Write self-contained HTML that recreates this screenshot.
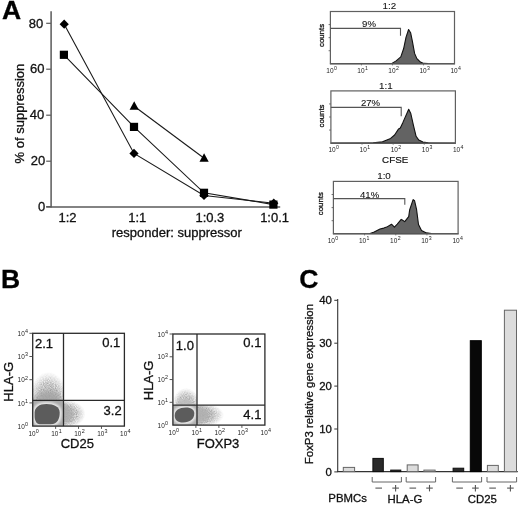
<!DOCTYPE html>
<html><head><meta charset="utf-8"><style>
html,body{margin:0;padding:0;background:#fff;width:520px;height:507px;overflow:hidden}
svg{display:block}
text{font-family:"Liberation Sans",sans-serif}
svg{will-change:transform}
</style></head><body>
<svg width="520" height="507" viewBox="0 0 520 507">
<rect width="520" height="507" fill="#fff"/>
<text x="2.0" y="19.0" font-size="26.5" text-anchor="start" font-weight="bold" fill="#000" stroke="#000" stroke-width="0.3" >A</text>
<text x="1.0" y="288.0" font-size="26.5" text-anchor="start" font-weight="bold" fill="#000" stroke="#000" stroke-width="0.3" >B</text>
<text x="299.3" y="288.2" font-size="26.5" text-anchor="start" font-weight="bold" fill="#000" stroke="#000" stroke-width="0.3" >C</text>
<line x1="51.1" y1="11.3" x2="51.1" y2="207.5" stroke="#5a5a5a" stroke-width="1.5"/>
<line x1="46.2" y1="206.9" x2="280.2" y2="206.9" stroke="#5a5a5a" stroke-width="1.5"/>
<line x1="46.2" y1="23.3" x2="51" y2="23.3" stroke="#5a5a5a" stroke-width="1.2"/>
<text x="43.3" y="27.9" font-size="13" text-anchor="end" fill="#111" stroke="#111" stroke-width="0.3" >80</text>
<line x1="46.2" y1="69.2" x2="51" y2="69.2" stroke="#5a5a5a" stroke-width="1.2"/>
<text x="44.5" y="73.2" font-size="13" text-anchor="end" fill="#111" stroke="#111" stroke-width="0.3" >60</text>
<line x1="46.2" y1="115.2" x2="51" y2="115.2" stroke="#5a5a5a" stroke-width="1.2"/>
<text x="44.3" y="119.2" font-size="13" text-anchor="end" fill="#111" stroke="#111" stroke-width="0.3" >40</text>
<line x1="46.2" y1="161.2" x2="51" y2="161.2" stroke="#5a5a5a" stroke-width="1.2"/>
<text x="45.2" y="165.39999999999998" font-size="13" text-anchor="end" fill="#111" stroke="#111" stroke-width="0.3" >20</text>
<line x1="46.2" y1="206.6" x2="51" y2="206.6" stroke="#5a5a5a" stroke-width="1.2"/>
<text x="45.2" y="210.5" font-size="13" text-anchor="end" fill="#111" stroke="#111" stroke-width="0.3" >0</text>
<text x="67.5" y="221.8" font-size="13" text-anchor="middle" fill="#111" stroke="#111" stroke-width="0.3" >1:2</text>
<text x="137.2" y="221.8" font-size="13" text-anchor="middle" fill="#111" stroke="#111" stroke-width="0.3" >1:1</text>
<text x="209.9" y="221.8" font-size="13" text-anchor="middle" fill="#111" stroke="#111" stroke-width="0.3" >1:0.3</text>
<text x="274.6" y="221.8" font-size="13" text-anchor="middle" fill="#111" stroke="#111" stroke-width="0.3" >1:0.1</text>
<text x="176.8" y="236.8" font-size="13" text-anchor="middle" fill="#111" stroke="#111" stroke-width="0.3" >responder: suppressor</text>
<text x="0" y="0" font-size="13" text-anchor="middle" fill="#111" stroke="#111" stroke-width="0.3" transform="translate(24.3,113.6) rotate(-90)">% of suppression</text>
<polyline points="64.2,24.2 134,153.4 204,195.5 273.8,203.2" fill="none" stroke="#1a1a1a" stroke-width="1.1"/>
<polyline points="63.9,54.8 134,126.9 204,192.8 273.4,204.6" fill="none" stroke="#1a1a1a" stroke-width="1.1"/>
<polyline points="134.2,106.2 204.1,158.2" fill="none" stroke="#1a1a1a" stroke-width="1.1"/>
<path d="M64.2 19.6L68.8 24.2L64.2 28.799999999999997L59.6 24.2Z" fill="#000"/>
<path d="M134 148.8L138.6 153.4L134 158.0L129.4 153.4Z" fill="#000"/>
<path d="M204 190.9L208.6 195.5L204 200.1L199.4 195.5Z" fill="#000"/>
<path d="M273.8 198.6L278.40000000000003 203.2L273.8 207.79999999999998L269.2 203.2Z" fill="#000"/>
<rect x="59.8" y="50.699999999999996" width="8.2" height="8.2" fill="#000"/>
<rect x="129.9" y="122.80000000000001" width="8.2" height="8.2" fill="#000"/>
<rect x="199.9" y="188.70000000000002" width="8.2" height="8.2" fill="#000"/>
<rect x="269.29999999999995" y="200.5" width="8.2" height="8.2" fill="#000"/>
<path d="M134.2 101.3L138.79999999999998 109.8L129.6 109.8Z" fill="#000"/>
<path d="M204.1 153.29999999999998L208.7 161.79999999999998L199.5 161.79999999999998Z" fill="#000"/>
<text x="0" y="0" font-size="10" text-anchor="middle" fill="#111" stroke="#111" stroke-width="0.1" transform="translate(389.3,9.2) scale(0.98,0.92)">1:2</text>
<path d="M330.4 63.8 L391.5 63.6 L396.1 60.9 L400.8 56.9 L403.6 48.8 L406 37.3 L408.6 29.5 L410.6 32.7 L412.3 40.8 L414.6 53.4 L416.9 58.6 L420.4 62.1 L423.8 63.4 L428 63.6 L454.5 63.8 Z" fill="#636363" stroke="#111" stroke-width="1.1" stroke-linejoin="round"/>
<rect x="330.4" y="11.5" width="124.10000000000002" height="52.3" fill="none" stroke="#606060" stroke-width="1.2"/>
<line x1="328.59999999999997" y1="50.724999999999994" x2="330.4" y2="50.724999999999994" stroke="#606060" stroke-width="0.9"/>
<line x1="328.59999999999997" y1="37.65" x2="330.4" y2="37.65" stroke="#606060" stroke-width="0.9"/>
<line x1="328.59999999999997" y1="24.575000000000003" x2="330.4" y2="24.575000000000003" stroke="#606060" stroke-width="0.9"/>
<polyline points="330.4,28.4 400.5,28.4 400.5,35.8" fill="none" stroke="#555" stroke-width="1.1"/>
<text x="0" y="0" font-size="10" text-anchor="middle" fill="#111" stroke="#111" stroke-width="0.1" transform="translate(369,27.299999999999997) scale(0.96,0.9)">9%</text>
<text x="0" y="0" font-size="7.8" text-anchor="middle" fill="#111" stroke="#111" stroke-width="0.3" transform="translate(323.6,35.4) rotate(-90)">counts</text>
<text x="326.29999999999995" y="72.55" font-size="6.5" fill="#222">10<tspan font-size="5.2" dx="0.4" dy="-2.7">0</tspan></text>
<line x1="361.42499999999995" y1="63.8" x2="361.42499999999995" y2="65.39999999999999" stroke="#606060" stroke-width="0.8"/>
<text x="357.32499999999993" y="72.55" font-size="6.5" fill="#222">10<tspan font-size="5.2" dx="0.4" dy="-2.7">1</tspan></text>
<line x1="392.45" y1="63.8" x2="392.45" y2="65.39999999999999" stroke="#606060" stroke-width="0.8"/>
<text x="388.34999999999997" y="72.55" font-size="6.5" fill="#222">10<tspan font-size="5.2" dx="0.4" dy="-2.7">2</tspan></text>
<line x1="423.475" y1="63.8" x2="423.475" y2="65.39999999999999" stroke="#606060" stroke-width="0.8"/>
<text x="419.375" y="72.55" font-size="6.5" fill="#222">10<tspan font-size="5.2" dx="0.4" dy="-2.7">3</tspan></text>
<text x="450.4" y="72.55" font-size="6.5" fill="#222">10<tspan font-size="5.2" dx="0.4" dy="-2.7">4</tspan></text>
<text x="0" y="0" font-size="10" text-anchor="middle" fill="#111" stroke="#111" stroke-width="0.1" transform="translate(385.8,88.60000000000001) scale(0.98,0.92)">1:1</text>
<path d="M330.9 143.1 L373.1 142.8 L382.5 141.7 L390.6 138.4 L394.6 135 L398.6 128.9 L400.3 128 L402.7 122.9 L408.7 109.2 L410.8 113.5 L413.5 125.6 L416.1 136.3 L418.8 140.1 L422.9 142 L428.3 142.8 L455.4 143.1 Z" fill="#636363" stroke="#111" stroke-width="1.1" stroke-linejoin="round"/>
<rect x="330.9" y="90.9" width="124.5" height="52.19999999999999" fill="none" stroke="#606060" stroke-width="1.2"/>
<line x1="329.09999999999997" y1="130.05" x2="330.9" y2="130.05" stroke="#606060" stroke-width="0.9"/>
<line x1="329.09999999999997" y1="117.0" x2="330.9" y2="117.0" stroke="#606060" stroke-width="0.9"/>
<line x1="329.09999999999997" y1="103.95" x2="330.9" y2="103.95" stroke="#606060" stroke-width="0.9"/>
<polyline points="330.9,107.4 401.2,107.4 401.2,116.2" fill="none" stroke="#555" stroke-width="1.1"/>
<text x="0" y="0" font-size="10" text-anchor="middle" fill="#111" stroke="#111" stroke-width="0.1" transform="translate(370.5,106.30000000000001) scale(0.96,0.9)">27%</text>
<text x="0" y="0" font-size="7.8" text-anchor="middle" fill="#111" stroke="#111" stroke-width="0.3" transform="translate(324.0,116.0) rotate(-90)">counts</text>
<text x="328.4" y="151.85" font-size="6.5" fill="#222">10<tspan font-size="5.2" dx="0.4" dy="-2.7">0</tspan></text>
<line x1="362.025" y1="143.1" x2="362.025" y2="144.7" stroke="#606060" stroke-width="0.8"/>
<text x="359.525" y="151.85" font-size="6.5" fill="#222">10<tspan font-size="5.2" dx="0.4" dy="-2.7">1</tspan></text>
<line x1="393.15" y1="143.1" x2="393.15" y2="144.7" stroke="#606060" stroke-width="0.8"/>
<text x="390.65" y="151.85" font-size="6.5" fill="#222">10<tspan font-size="5.2" dx="0.4" dy="-2.7">2</tspan></text>
<line x1="424.275" y1="143.1" x2="424.275" y2="144.7" stroke="#606060" stroke-width="0.8"/>
<text x="421.775" y="151.85" font-size="6.5" fill="#222">10<tspan font-size="5.2" dx="0.4" dy="-2.7">3</tspan></text>
<text x="452.9" y="151.85" font-size="6.5" fill="#222">10<tspan font-size="5.2" dx="0.4" dy="-2.7">4</tspan></text>
<text x="0" y="0" font-size="10" text-anchor="middle" fill="#111" stroke="#111" stroke-width="0.2" transform="translate(395.15,163.2) scale(0.98,0.92)">CFSE</text>
<text x="0" y="0" font-size="10" text-anchor="middle" fill="#111" stroke="#111" stroke-width="0.1" transform="translate(384,179.1) scale(0.98,0.92)">1:0</text>
<path d="M333.4 233.8 L369.4 233.7 L374.2 231.9 L380 229 L383.8 228.1 L386.7 227.1 L391.5 224.2 L394.4 227.1 L397.3 224.2 L401.2 219.4 L402.3 220 L404.7 221.6 L408.7 216.6 L409.7 209.7 L413.1 199.6 L414.6 200.8 L416.6 209.7 L418.5 224.5 L421.5 230.4 L426.4 232.9 L431.4 233.6 L458.1 233.8 Z" fill="#636363" stroke="#111" stroke-width="1.1" stroke-linejoin="round"/>
<rect x="333.4" y="181.4" width="124.70000000000005" height="52.400000000000006" fill="none" stroke="#606060" stroke-width="1.2"/>
<line x1="331.59999999999997" y1="220.70000000000002" x2="333.4" y2="220.70000000000002" stroke="#606060" stroke-width="0.9"/>
<line x1="331.59999999999997" y1="207.60000000000002" x2="333.4" y2="207.60000000000002" stroke="#606060" stroke-width="0.9"/>
<line x1="331.59999999999997" y1="194.5" x2="333.4" y2="194.5" stroke="#606060" stroke-width="0.9"/>
<polyline points="333.4,198.6 404.8,198.6 404.8,204.8" fill="none" stroke="#555" stroke-width="1.1"/>
<text x="0" y="0" font-size="10" text-anchor="middle" fill="#111" stroke="#111" stroke-width="0.1" transform="translate(369.6,197.5) scale(0.96,0.9)">41%</text>
<text x="0" y="0" font-size="7.8" text-anchor="middle" fill="#111" stroke="#111" stroke-width="0.3" transform="translate(323.4,203.7) rotate(-90)">counts</text>
<text x="327.69999999999993" y="242.55" font-size="6.5" fill="#222">10<tspan font-size="5.2" dx="0.4" dy="-2.7">0</tspan></text>
<line x1="364.575" y1="233.8" x2="364.575" y2="235.4" stroke="#606060" stroke-width="0.8"/>
<text x="358.87499999999994" y="242.55" font-size="6.5" fill="#222">10<tspan font-size="5.2" dx="0.4" dy="-2.7">1</tspan></text>
<line x1="395.75" y1="233.8" x2="395.75" y2="235.4" stroke="#606060" stroke-width="0.8"/>
<text x="390.04999999999995" y="242.55" font-size="6.5" fill="#222">10<tspan font-size="5.2" dx="0.4" dy="-2.7">2</tspan></text>
<line x1="426.925" y1="233.8" x2="426.925" y2="235.4" stroke="#606060" stroke-width="0.8"/>
<text x="421.22499999999997" y="242.55" font-size="6.5" fill="#222">10<tspan font-size="5.2" dx="0.4" dy="-2.7">3</tspan></text>
<text x="452.4" y="242.55" font-size="6.5" fill="#222">10<tspan font-size="5.2" dx="0.4" dy="-2.7">4</tspan></text>
<defs>
<filter id="spk" x="0" y="0" width="1" height="1" filterUnits="objectBoundingBox"><feTurbulence type="fractalNoise" baseFrequency="0.85" numOctaves="2" seed="7" result="n"/><feColorMatrix in="n" type="matrix" values="0 0 0 0 0  0 0 0 0 0  0 0 0 0 0  -0.9 -0.9 0 0 1.55" result="m"/><feComposite in="SourceGraphic" in2="m" operator="in"/></filter>
<filter id="bl" x="-0.2" y="-0.2" width="1.4" height="1.4"><feGaussianBlur stdDeviation="0.9"/></filter>
</defs>
<rect x="32.7" y="400.3" width="30.799999999999997" height="25.80000000000001" fill="#ababab"/>
<defs><clipPath id="cp1"><rect x="32.7" y="333.3" width="30.799999999999997" height="67.0"/></clipPath></defs>
<defs><radialGradient id="rg2" gradientUnits="userSpaceOnUse" cx="48.5" cy="405" r="21" gradientTransform="translate(48.5 405) scale(1 1.5714285714285714) translate(-48.5 -405)"><stop offset="0" stop-color="#8a8a8a" stop-opacity="1"/><stop offset="0.6" stop-color="#8a8a8a" stop-opacity="0.8"/><stop offset="1" stop-color="#8a8a8a" stop-opacity="0"/></radialGradient></defs>
<g clip-path="url(#cp1)"><rect x="32.7" y="333.3" width="30.799999999999997" height="67.0" fill="url(#rg2)" filter="url(#spk)"/></g>
<defs><radialGradient id="rg3" gradientUnits="userSpaceOnUse" cx="48" cy="402" r="16" gradientTransform="translate(48 402) scale(1 0.875) translate(-48 -402)"><stop offset="0" stop-color="#a4a4a4" stop-opacity="0.95"/><stop offset="0.6" stop-color="#a4a4a4" stop-opacity="0.8"/><stop offset="1" stop-color="#a4a4a4" stop-opacity="0"/></radialGradient></defs>
<g clip-path="url(#cp1)"><rect x="32.7" y="333.3" width="30.799999999999997" height="67.0" fill="url(#rg3)"/></g>
<defs><clipPath id="cp4"><rect x="63.5" y="400.3" width="60.900000000000006" height="25.80000000000001"/></clipPath></defs>
<defs><radialGradient id="rg5" gradientUnits="userSpaceOnUse" cx="62.5" cy="414" r="23" gradientTransform="translate(62.5 414) scale(1 0.6521739130434783) translate(-62.5 -414)"><stop offset="0" stop-color="#8a8a8a" stop-opacity="1"/><stop offset="0.6" stop-color="#8a8a8a" stop-opacity="0.8"/><stop offset="1" stop-color="#8a8a8a" stop-opacity="0"/></radialGradient></defs>
<g clip-path="url(#cp4)"><rect x="63.5" y="400.3" width="60.900000000000006" height="25.80000000000001" fill="url(#rg5)" filter="url(#spk)"/></g>
<defs><radialGradient id="rg6" gradientUnits="userSpaceOnUse" cx="63" cy="414" r="12" gradientTransform="translate(63 414) scale(1 1.0) translate(-63 -414)"><stop offset="0" stop-color="#acacac" stop-opacity="0.95"/><stop offset="0.6" stop-color="#acacac" stop-opacity="0.8"/><stop offset="1" stop-color="#acacac" stop-opacity="0"/></radialGradient></defs>
<g clip-path="url(#cp4)"><rect x="63.5" y="400.3" width="60.900000000000006" height="25.80000000000001" fill="url(#rg6)"/></g>
<path d="M34.6 413 C34.6 407.5 39 404.1 46.5 404.1 C54 404.1 59.7 407 59.7 412.5 C59.7 418 58 424.2 50.5 424.2 L40 424.2 C36 424.2 34.6 420 34.6 416 Z" fill="none" stroke="#e8e8e8" stroke-width="4.2" filter="url(#bl)"/>
<path d="M34.6 413 C34.6 407.5 39 404.1 46.5 404.1 C54 404.1 59.7 407 59.7 412.5 C59.7 418 58 424.2 50.5 424.2 L40 424.2 C36 424.2 34.6 420 34.6 416 Z" fill="#5c5c5c"/>
<rect x="32.7" y="333.3" width="91.7" height="92.80000000000001" fill="none" stroke="#2a2a2a" stroke-width="1.3"/>
<line x1="63.5" y1="333.3" x2="63.5" y2="426.1" stroke="#2a2a2a" stroke-width="1.3"/>
<line x1="32.7" y1="400.3" x2="124.4" y2="400.3" stroke="#2a2a2a" stroke-width="1.3"/>
<text x="53" y="347.5" font-size="13" text-anchor="end" fill="#111" stroke="#111" stroke-width="0.3" >2.1</text>
<text x="120.3" y="347.2" font-size="13" text-anchor="end" fill="#111" stroke="#111" stroke-width="0.3" >0.1</text>
<text x="121.7" y="415.0" font-size="13" text-anchor="end" fill="#111" stroke="#111" stroke-width="0.3" >3.2</text>
<text x="28" y="428.70000000000005" font-size="6.4" text-anchor="end" fill="#222">10<tspan font-size="5.4" dx="0.3" dy="-2.8">0</tspan></text>
<line x1="29.400000000000002" y1="402.90000000000003" x2="32.7" y2="402.90000000000003" stroke="#444" stroke-width="0.9"/>
<text x="28" y="405.50000000000006" font-size="6.4" text-anchor="end" fill="#222">10<tspan font-size="5.4" dx="0.3" dy="-2.8">1</tspan></text>
<line x1="29.400000000000002" y1="379.70000000000005" x2="32.7" y2="379.70000000000005" stroke="#444" stroke-width="0.9"/>
<text x="28" y="382.30000000000007" font-size="6.4" text-anchor="end" fill="#222">10<tspan font-size="5.4" dx="0.3" dy="-2.8">2</tspan></text>
<line x1="29.400000000000002" y1="356.5" x2="32.7" y2="356.5" stroke="#444" stroke-width="0.9"/>
<text x="28" y="359.1" font-size="6.4" text-anchor="end" fill="#222">10<tspan font-size="5.4" dx="0.3" dy="-2.8">3</tspan></text>
<line x1="29.400000000000002" y1="333.3" x2="32.7" y2="333.3" stroke="#444" stroke-width="0.9"/>
<text x="28" y="335.90000000000003" font-size="6.4" text-anchor="end" fill="#222">10<tspan font-size="5.4" dx="0.3" dy="-2.8">4</tspan></text>
<text x="33.6" y="436.0" font-size="6.4" text-anchor="middle" fill="#222">10<tspan font-size="5.4" dx="0.3" dy="-2.8">0</tspan></text>
<line x1="55.625" y1="426.1" x2="55.625" y2="428.90000000000003" stroke="#444" stroke-width="0.9"/>
<text x="56.525" y="436.0" font-size="6.4" text-anchor="middle" fill="#222">10<tspan font-size="5.4" dx="0.3" dy="-2.8">1</tspan></text>
<line x1="78.55000000000001" y1="426.1" x2="78.55000000000001" y2="428.90000000000003" stroke="#444" stroke-width="0.9"/>
<text x="79.45000000000002" y="436.0" font-size="6.4" text-anchor="middle" fill="#222">10<tspan font-size="5.4" dx="0.3" dy="-2.8">2</tspan></text>
<line x1="101.47500000000001" y1="426.1" x2="101.47500000000001" y2="428.90000000000003" stroke="#444" stroke-width="0.9"/>
<text x="102.37500000000001" y="436.0" font-size="6.4" text-anchor="middle" fill="#222">10<tspan font-size="5.4" dx="0.3" dy="-2.8">3</tspan></text>
<text x="125.30000000000001" y="436.0" font-size="6.4" text-anchor="middle" fill="#222">10<tspan font-size="5.4" dx="0.3" dy="-2.8">4</tspan></text>
<text x="0" y="0" font-size="13" text-anchor="middle" fill="#111" stroke="#111" stroke-width="0.3" transform="translate(13.1,381.8) rotate(-90)">HLA-G</text>
<text x="60.7" y="447.5" font-size="13" text-anchor="start" fill="#111" stroke="#111" stroke-width="0.3" >CD25</text>
<rect x="172.9" y="405.2" width="24.099999999999994" height="19.900000000000034" fill="#b0b0b0"/>
<defs><clipPath id="cp7"><rect x="172.9" y="334" width="24.099999999999994" height="71.19999999999999"/></clipPath></defs>
<defs><radialGradient id="rg8" gradientUnits="userSpaceOnUse" cx="186" cy="406" r="14" gradientTransform="translate(186 406) scale(1 1.2857142857142858) translate(-186 -406)"><stop offset="0" stop-color="#959595" stop-opacity="1"/><stop offset="0.6" stop-color="#959595" stop-opacity="0.8"/><stop offset="1" stop-color="#959595" stop-opacity="0"/></radialGradient></defs>
<g clip-path="url(#cp7)"><rect x="172.9" y="334" width="24.099999999999994" height="71.19999999999999" fill="url(#rg8)" filter="url(#spk)"/></g>
<defs><radialGradient id="rg9" gradientUnits="userSpaceOnUse" cx="185" cy="405" r="10" gradientTransform="translate(185 405) scale(1 0.8) translate(-185 -405)"><stop offset="0" stop-color="#bdbdbd" stop-opacity="0.95"/><stop offset="0.6" stop-color="#bdbdbd" stop-opacity="0.8"/><stop offset="1" stop-color="#bdbdbd" stop-opacity="0"/></radialGradient></defs>
<g clip-path="url(#cp7)"><rect x="172.9" y="334" width="24.099999999999994" height="71.19999999999999" fill="url(#rg9)"/></g>
<defs><clipPath id="cp10"><rect x="197" y="405.2" width="67.89999999999998" height="19.900000000000034"/></clipPath></defs>
<defs><radialGradient id="rg11" gradientUnits="userSpaceOnUse" cx="197" cy="415" r="27" gradientTransform="translate(197 415) scale(1 0.48148148148148145) translate(-197 -415)"><stop offset="0" stop-color="#8a8a8a" stop-opacity="1"/><stop offset="0.6" stop-color="#8a8a8a" stop-opacity="0.8"/><stop offset="1" stop-color="#8a8a8a" stop-opacity="0"/></radialGradient></defs>
<g clip-path="url(#cp10)"><rect x="197" y="405.2" width="67.89999999999998" height="19.900000000000034" fill="url(#rg11)" filter="url(#spk)"/></g>
<defs><radialGradient id="rg12" gradientUnits="userSpaceOnUse" cx="199" cy="415" r="14" gradientTransform="translate(199 415) scale(1 0.7142857142857143) translate(-199 -415)"><stop offset="0" stop-color="#b0b0b0" stop-opacity="0.95"/><stop offset="0.6" stop-color="#b0b0b0" stop-opacity="0.8"/><stop offset="1" stop-color="#b0b0b0" stop-opacity="0"/></radialGradient></defs>
<g clip-path="url(#cp10)"><rect x="197" y="405.2" width="67.89999999999998" height="19.900000000000034" fill="url(#rg12)"/></g>
<path d="M174.7 415.5 C174.7 410.5 179 407.6 186 407.6 C191.5 407.6 194.3 410 194.3 413.5 C194.3 419 190 422.5 183 422.5 C177.5 422.5 174.7 420 174.7 415.5 Z" fill="none" stroke="#e8e8e8" stroke-width="4.2" filter="url(#bl)"/>
<path d="M174.7 415.5 C174.7 410.5 179 407.6 186 407.6 C191.5 407.6 194.3 410 194.3 413.5 C194.3 419 190 422.5 183 422.5 C177.5 422.5 174.7 420 174.7 415.5 Z" fill="#5c5c5c"/>
<rect x="172.9" y="334" width="91.99999999999997" height="91.10000000000002" fill="none" stroke="#2a2a2a" stroke-width="1.3"/>
<line x1="197" y1="334" x2="197" y2="425.1" stroke="#2a2a2a" stroke-width="1.3"/>
<line x1="172.9" y1="405.2" x2="264.9" y2="405.2" stroke="#2a2a2a" stroke-width="1.3"/>
<text x="193.9" y="349.6" font-size="13" text-anchor="end" fill="#111" stroke="#111" stroke-width="0.3" >1.0</text>
<text x="261.4" y="347.4" font-size="13" text-anchor="end" fill="#111" stroke="#111" stroke-width="0.3" >0.1</text>
<text x="261.4" y="419.4" font-size="13" text-anchor="end" fill="#111" stroke="#111" stroke-width="0.3" >4.1</text>
<text x="168" y="427.70000000000005" font-size="6.4" text-anchor="end" fill="#222">10<tspan font-size="5.4" dx="0.3" dy="-2.8">0</tspan></text>
<line x1="169.6" y1="402.32500000000005" x2="172.9" y2="402.32500000000005" stroke="#444" stroke-width="0.9"/>
<text x="168" y="404.92500000000007" font-size="6.4" text-anchor="end" fill="#222">10<tspan font-size="5.4" dx="0.3" dy="-2.8">1</tspan></text>
<line x1="169.6" y1="379.55" x2="172.9" y2="379.55" stroke="#444" stroke-width="0.9"/>
<text x="168" y="382.15000000000003" font-size="6.4" text-anchor="end" fill="#222">10<tspan font-size="5.4" dx="0.3" dy="-2.8">2</tspan></text>
<line x1="169.6" y1="356.775" x2="172.9" y2="356.775" stroke="#444" stroke-width="0.9"/>
<text x="168" y="359.375" font-size="6.4" text-anchor="end" fill="#222">10<tspan font-size="5.4" dx="0.3" dy="-2.8">3</tspan></text>
<line x1="169.6" y1="334.0" x2="172.9" y2="334.0" stroke="#444" stroke-width="0.9"/>
<text x="168" y="336.6" font-size="6.4" text-anchor="end" fill="#222">10<tspan font-size="5.4" dx="0.3" dy="-2.8">4</tspan></text>
<text x="173.8" y="435.0" font-size="6.4" text-anchor="middle" fill="#222">10<tspan font-size="5.4" dx="0.3" dy="-2.8">0</tspan></text>
<line x1="195.9" y1="425.1" x2="195.9" y2="427.90000000000003" stroke="#444" stroke-width="0.9"/>
<text x="196.8" y="435.0" font-size="6.4" text-anchor="middle" fill="#222">10<tspan font-size="5.4" dx="0.3" dy="-2.8">1</tspan></text>
<line x1="218.89999999999998" y1="425.1" x2="218.89999999999998" y2="427.90000000000003" stroke="#444" stroke-width="0.9"/>
<text x="219.79999999999998" y="435.0" font-size="6.4" text-anchor="middle" fill="#222">10<tspan font-size="5.4" dx="0.3" dy="-2.8">2</tspan></text>
<line x1="241.89999999999998" y1="425.1" x2="241.89999999999998" y2="427.90000000000003" stroke="#444" stroke-width="0.9"/>
<text x="242.79999999999998" y="435.0" font-size="6.4" text-anchor="middle" fill="#222">10<tspan font-size="5.4" dx="0.3" dy="-2.8">3</tspan></text>
<text x="265.79999999999995" y="435.0" font-size="6.4" text-anchor="middle" fill="#222">10<tspan font-size="5.4" dx="0.3" dy="-2.8">4</tspan></text>
<text x="0" y="0" font-size="13" text-anchor="middle" fill="#111" stroke="#111" stroke-width="0.3" transform="translate(153.1,380.4) rotate(-90)">HLA-G</text>
<text x="196.7" y="447.5" font-size="13" text-anchor="start" fill="#111" stroke="#111" stroke-width="0.3" >FOXP3</text>
<line x1="337.7" y1="299" x2="337.7" y2="472" stroke="#333" stroke-width="1.1"/>
<line x1="337.2" y1="471.6" x2="517.8" y2="471.6" stroke="#333" stroke-width="1.1"/>
<line x1="334.3" y1="300.29999999999995" x2="337.7" y2="300.29999999999995" stroke="#333" stroke-width="1"/>
<text x="331.9" y="304.29999999999995" font-size="11.4" text-anchor="end" fill="#111" stroke="#111" stroke-width="0.3" >40</text>
<line x1="334.3" y1="343.2" x2="337.7" y2="343.2" stroke="#333" stroke-width="1"/>
<text x="331.9" y="347.2" font-size="11.4" text-anchor="end" fill="#111" stroke="#111" stroke-width="0.3" >30</text>
<line x1="334.3" y1="386.09999999999997" x2="337.7" y2="386.09999999999997" stroke="#333" stroke-width="1"/>
<text x="331.9" y="390.09999999999997" font-size="11.4" text-anchor="end" fill="#111" stroke="#111" stroke-width="0.3" >20</text>
<line x1="334.3" y1="429.0" x2="337.7" y2="429.0" stroke="#333" stroke-width="1"/>
<text x="331.9" y="433.0" font-size="11.4" text-anchor="end" fill="#111" stroke="#111" stroke-width="0.3" >10</text>
<line x1="334.3" y1="471.9" x2="337.7" y2="471.9" stroke="#333" stroke-width="1"/>
<text x="331.9" y="475.9" font-size="11.4" text-anchor="end" fill="#111" stroke="#111" stroke-width="0.3" >0</text>
<text x="0" y="0" font-size="11.45" text-anchor="middle" fill="#111" stroke="#111" stroke-width="0.3" transform="translate(313.3,384.1) rotate(-90)">FoxP3 relative gene expression</text>
<rect x="343.3" y="467.4" width="11.300000000000011" height="4.2000000000000455" fill="#dcdcdc" stroke="#666" stroke-width="1"/>
<rect x="372.9" y="458.4" width="10.400000000000034" height="13.200000000000045" fill="#2a2a2a" stroke="#0e0e0e" stroke-width="1"/>
<rect x="390.7" y="470.1" width="10.100000000000023" height="1.5" fill="#2a2a2a" stroke="#0e0e0e" stroke-width="1"/>
<rect x="407.2" y="464.9" width="10.900000000000034" height="6.7000000000000455" fill="#dcdcdc" stroke="#666" stroke-width="1"/>
<rect x="423.9" y="470.1" width="11.200000000000045" height="1.5" fill="#dcdcdc" stroke="#666" stroke-width="1"/>
<rect x="453.1" y="468.2" width="10.599999999999966" height="3.400000000000034" fill="#2a2a2a" stroke="#0e0e0e" stroke-width="1"/>
<rect x="470.3" y="340.7" width="11.0" height="130.90000000000003" fill="#080808" stroke="#000" stroke-width="1"/>
<rect x="487.4" y="465.4" width="10.900000000000034" height="6.2000000000000455" fill="#dcdcdc" stroke="#666" stroke-width="1"/>
<rect x="504.4" y="310.2" width="12.100000000000023" height="161.40000000000003" fill="#dcdcdc" stroke="#666" stroke-width="1"/>
<polyline points="372.2,477 372.2,482 401.4,482 401.4,477" fill="none" stroke="#666" stroke-width="1"/>
<polyline points="406.2,477 406.2,482 435.6,482 435.6,477" fill="none" stroke="#666" stroke-width="1"/>
<polyline points="452.4,477 452.4,482 481.6,482 481.6,477" fill="none" stroke="#666" stroke-width="1"/>
<polyline points="487,477 487,482 516.6,482 516.6,477" fill="none" stroke="#666" stroke-width="1"/>
<line x1="375.4" y1="488.1" x2="382.0" y2="488.1" stroke="#555" stroke-width="1.1"/>
<line x1="392.3" y1="488.1" x2="398.90000000000003" y2="488.1" stroke="#555" stroke-width="1.1"/>
<line x1="395.6" y1="484.9" x2="395.6" y2="491.4" stroke="#555" stroke-width="1.1"/>
<line x1="409.5" y1="488.1" x2="416.1" y2="488.1" stroke="#555" stroke-width="1.1"/>
<line x1="426.2" y1="488.1" x2="432.8" y2="488.1" stroke="#555" stroke-width="1.1"/>
<line x1="429.5" y1="484.9" x2="429.5" y2="491.4" stroke="#555" stroke-width="1.1"/>
<line x1="456.3" y1="488.1" x2="462.90000000000003" y2="488.1" stroke="#555" stroke-width="1.1"/>
<line x1="472.09999999999997" y1="488.1" x2="478.7" y2="488.1" stroke="#555" stroke-width="1.1"/>
<line x1="475.4" y1="484.9" x2="475.4" y2="491.4" stroke="#555" stroke-width="1.1"/>
<line x1="489.3" y1="488.1" x2="495.90000000000003" y2="488.1" stroke="#555" stroke-width="1.1"/>
<line x1="507.09999999999997" y1="488.1" x2="513.6999999999999" y2="488.1" stroke="#555" stroke-width="1.1"/>
<line x1="510.4" y1="484.9" x2="510.4" y2="491.4" stroke="#555" stroke-width="1.1"/>
<text x="328.3" y="502.4" font-size="11.4" text-anchor="start" fill="#111" stroke="#111" stroke-width="0.3" >PBMCs</text>
<text x="387.5" y="503.4" font-size="11.4" text-anchor="start" fill="#111" stroke="#111" stroke-width="0.3" >HLA-G</text>
<text x="467.8" y="503.4" font-size="11.4" text-anchor="start" fill="#111" stroke="#111" stroke-width="0.3" >CD25</text>
</svg>
</body></html>
